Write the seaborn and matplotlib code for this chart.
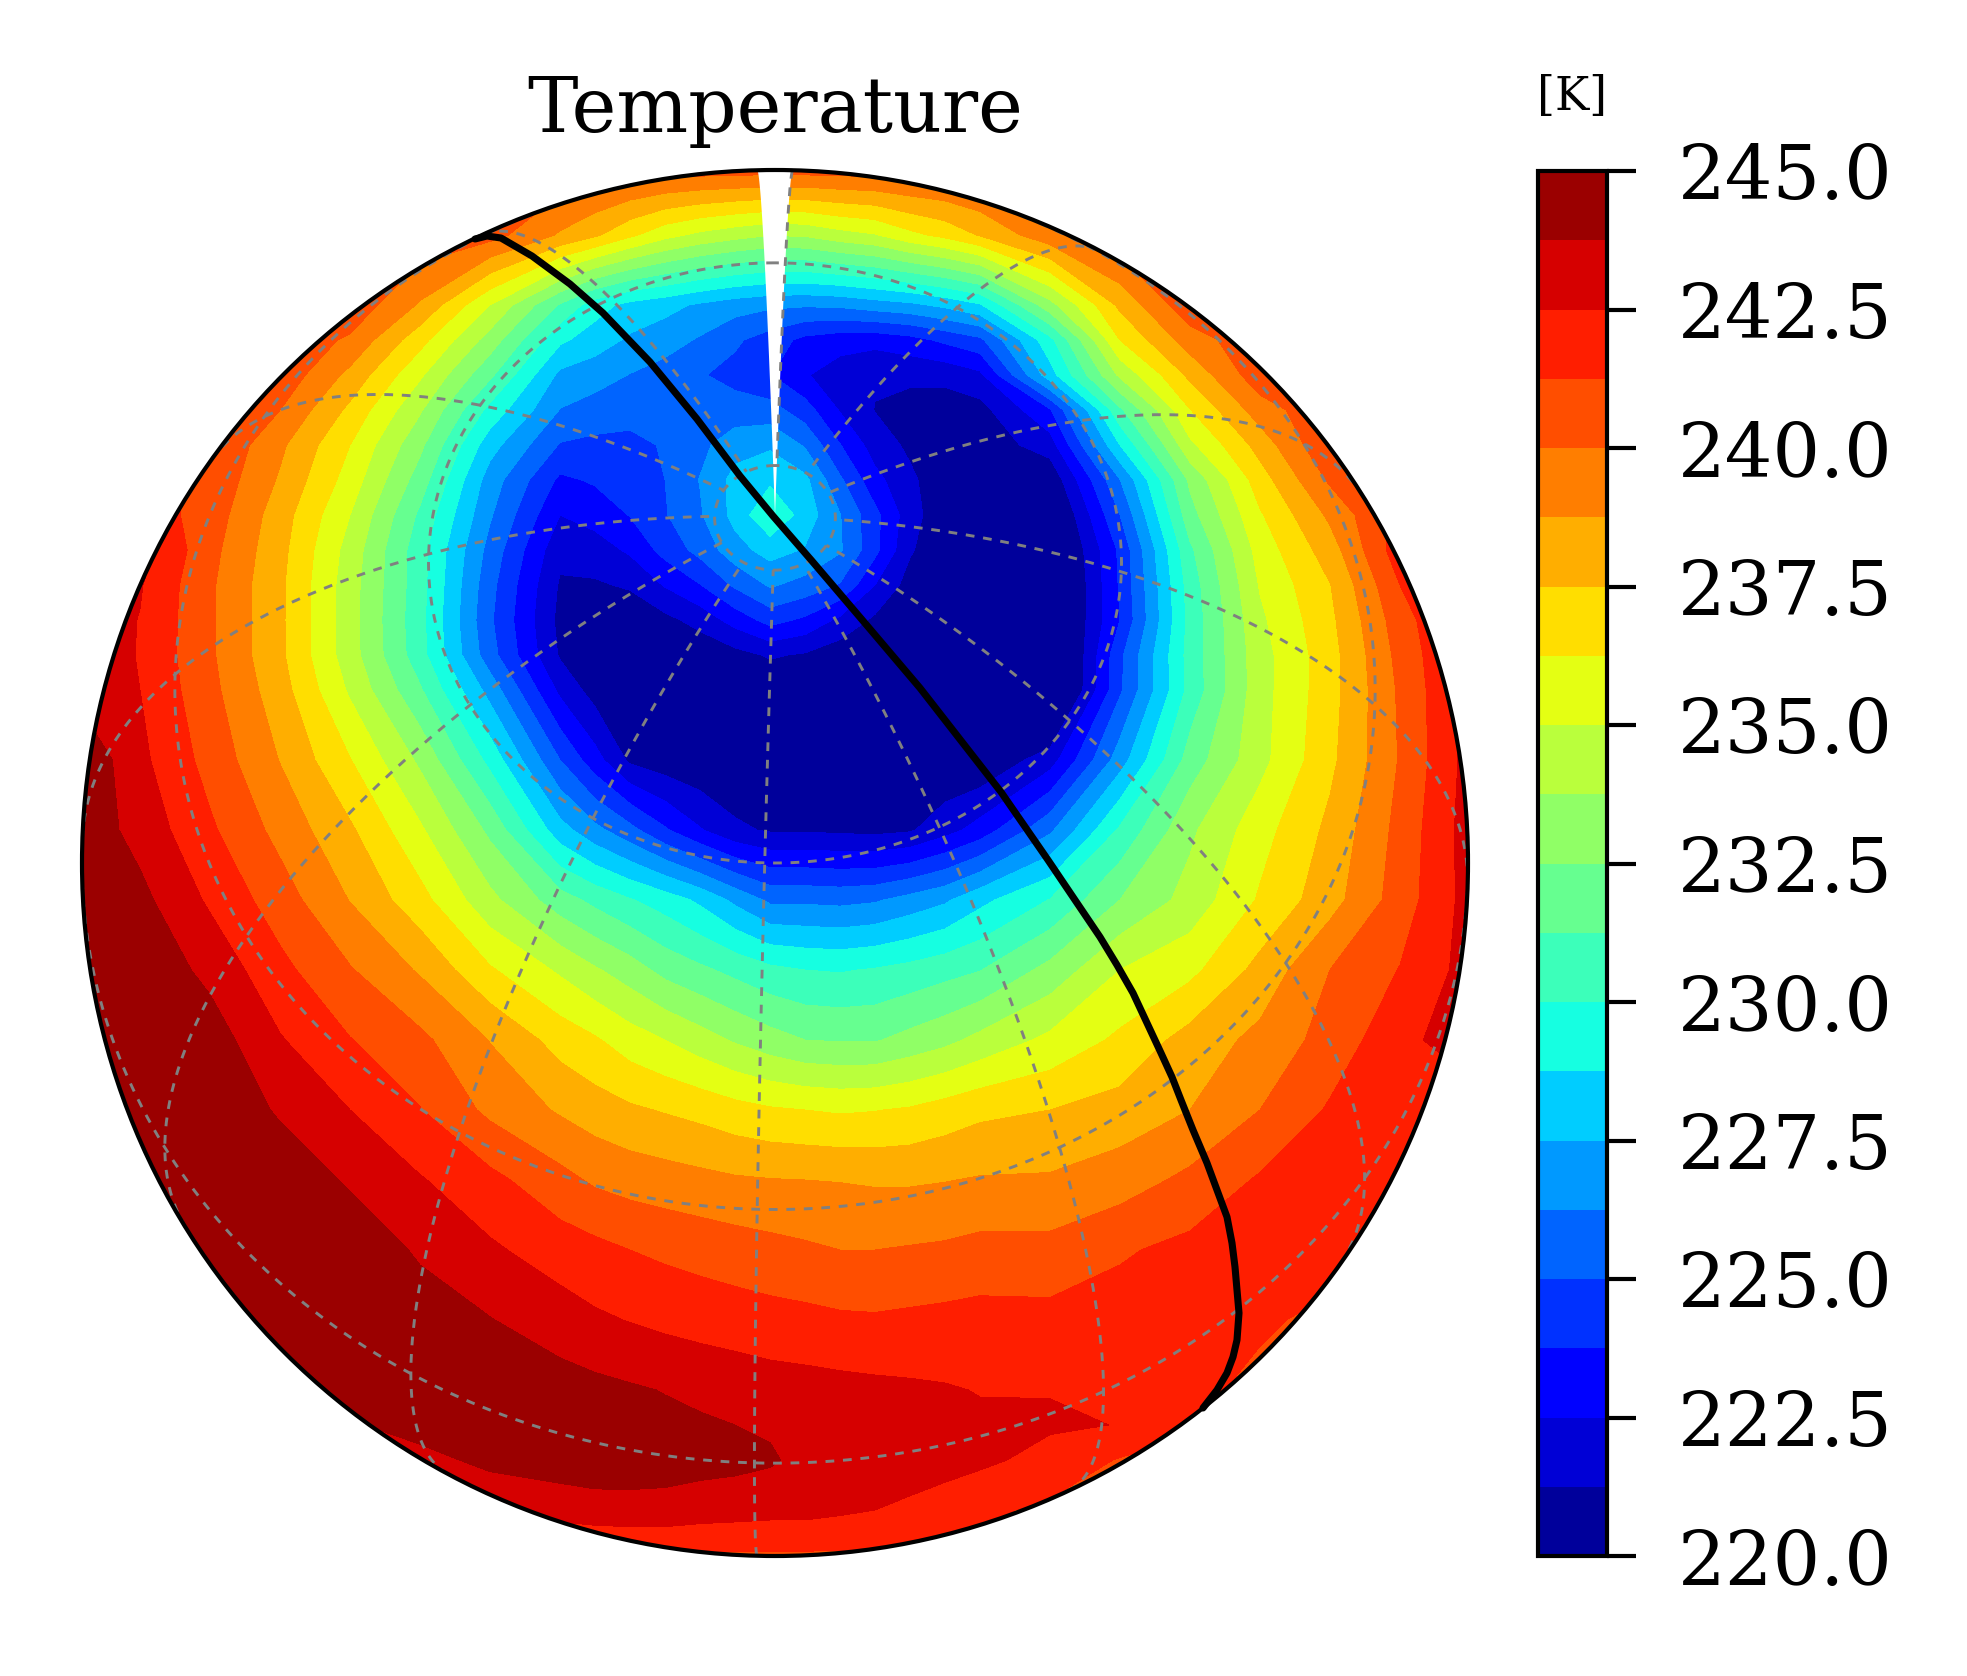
import numpy as np
import matplotlib
matplotlib.use("Agg")
import matplotlib.pyplot as plt
from matplotlib.cm import ScalarMappable
from matplotlib.colors import BoundaryNorm, ListedColormap
from matplotlib.patches import Circle
import seaborn as sns

sns.set_theme(style="white")
plt.rcParams["font.family"] = ["DejaVu Serif"]

# picture grid the temperatures were read on
grid_x = [70, 140, 210, 280, 350, 420, 490, 560, 595, 630, 665, 700, 735, 770, 805, 840, 875, 910, 945, 980,
          1050, 1120, 1190, 1260, 1330, 1400, 1470]
grid_y = [165, 235, 305, 340, 375, 410, 445, 480, 515, 550, 585, 620, 655, 690,
          760, 830, 900, 970, 1040, 1110, 1180, 1250, 1320, 1390, 1425, 1460, 1510, 1560]

# temperature [K], one list per row of the grid
t_165 = [241.0] * 27
t_235 = [240.9, 240.9, 240.9, 240.9, 240.9, 240.9, 240.5, 238.6, 237.7, 236.5, 235.4, 234.7, 234.2, 233.8, 233.9, 234.5, 234.9, 235.9, 236.6, 237.6, 239.6, 240.9, 240.9, 240.9, 240.9, 240.9, 240.9]
t_305 = [240.9, 240.9, 240.9, 240.9, 240.9, 238.6, 235.0, 231.1, 229.3, 228.35, 227.9, 227.3, 226.8, 226.5, 226.4, 226.5, 226.9, 227.2, 227.8, 228.6, 233.3, 237.8, 240.9, 240.9, 240.9, 240.9, 240.9]
t_340 = [240.9, 240.9, 240.9, 240.9, 239.8, 236.7, 233.2, 229.0, 228.1, 227.3, 226.8, 226.1, 225.2, 224.4, 223.4, 223.0, 222.9, 223.3, 224.0, 224.7, 229.6, 236.25, 239.4, 240.9, 240.9, 240.9, 240.9]
t_375 = [240.9, 240.9, 240.9, 240.9, 238.4, 235.2, 231.5, 227.2, 226.8, 226.2, 225.7, 225.1, 224.6, 223.8, 222.6, 221.9, 221.4, 221.5, 221.6, 222.2, 228.2, 234.0, 237.8, 240.8, 240.9, 240.9, 240.9]
t_410 = [241.1, 241.1, 241.1, 240.0, 237.2, 233.9, 229.6, 226.2, 225.7, 225.4, 225.4, 225.5, 225.5, 225.5, 224.3, 222.4, 221.2, 220.8, 220.6, 220.8, 223.6, 231.0, 236.2, 239.4, 241.0, 241.0, 241.0]
t_445 = [241.3, 241.3, 241.3, 239.0, 236.25, 232.8, 228.0, 224.9, 224.7, 224.7, 225.1, 225.9, 227.0, 227.3, 226.1, 223.8, 221.9, 221.0, 220.5, 220.4, 221.9, 228.75, 234.7, 238.0, 241.2, 241.3, 241.3]
t_480 = [241.6, 241.6, 241.0, 238.6, 235.7, 231.9, 226.9, 223.5, 223.9, 224.3, 225.0, 226.3, 227.9, 228.5, 227.8, 225.2, 222.9, 221.5, 220.4, 220.3, 220.2, 226.2, 232.75, 236.9, 240.2, 241.6, 241.6]
t_515 = [242.0, 242.0, 240.7, 238.1, 235.0, 231.0, 226.4, 222.5, 223.0, 223.8, 224.9, 226.1, 227.9, 229.9, 228.2, 226.3, 224.1, 221.8, 220.3, 220.2, 219.2, 225.0, 232.0, 236.1, 239.0, 241.8, 242.0]
t_550 = [243.0, 243.0, 240.4, 237.9, 234.5, 230.5, 225.8, 221.6, 221.9, 222.7, 224.2, 225.4, 227.0, 228.0, 227.4, 226.4, 224.1, 221.4, 220.2, 220.1, 218.7, 224.0, 231.0, 235.5, 238.15, 242.0, 243.0]
t_585 = [243.5, 242.6, 240.2, 237.75, 234.3, 230.5, 225.4, 221.1, 221.1, 221.4, 222.6, 223.7, 225.2, 226.4, 225.8, 224.9, 222.5, 220.7, 220.1, 220.1, 218.4, 223.9, 230.55, 235.1, 237.45, 241.25, 243.0]
t_620 = [243.6, 242.45, 240.2, 237.75, 234.25, 230.4, 225.2, 220.9, 220.4, 220.4, 220.9, 221.7, 223.0, 224.2, 223.5, 222.2, 221.0, 220.2, 220.1, 220.1, 218.6, 223.75, 230.4, 234.75, 237.2, 240.7, 243.0]
t_655 = [243.8, 242.4, 240.2, 237.75, 234.3, 230.5, 225.5, 221.1, 220.3, 220.1, 220.2, 220.3, 220.8, 221.4, 221.1, 220.5, 220.2, 220.1, 220.1, 220.1, 218.0, 224.7, 230.5, 234.5, 237.0, 240.4, 243.0]
t_690 = [243.7, 242.5, 240.35, 238.05, 234.8, 231.4, 227.0, 222.2, 220.7, 220.1, 220.1, 220.1, 220.1, 220.2, 220.2, 220.1, 220.1, 220.1, 220.1, 220.1, 218.1, 224.8, 230.4, 234.5, 237.0, 240.2, 243.0]
t_760 = [245.2, 242.8, 240.8, 238.7, 236.3, 233.5, 229.6, 225.0, 223.0, 221.0, 220.5, 220.2, 220.1, 220.1, 220.1, 220.1, 220.1, 220.1, 220.1, 220.1, 221.9, 226.9, 231.8, 234.6, 237.2, 240.1, 243.0]
t_830 = [244.8, 243.3, 241.45, 239.6, 237.7, 235.2, 232.2, 228.0, 226.6, 225.4, 223.9, 222.6, 221.5, 221.1, 221.1, 221.0, 220.9, 221.1, 222.0, 223.0, 226.0, 230.2, 233.5, 235.75, 237.8, 240.4, 243.1]
t_900 = [245.0, 244.1, 242.3, 240.6, 238.7, 236.7, 234.1, 231.8, 230.9, 230.1, 229.4, 228.5, 227.2, 226.0, 226.0, 225.9, 226.1, 226.7, 227.3, 228.4, 230.05, 232.5, 234.2, 236.4, 238.25, 240.6, 243.0]
t_970 = [245.0, 244.7, 243.4, 241.6, 240.1, 238.6, 236.4, 234.8, 233.9, 233.1, 232.1, 231.5, 230.9, 230.3, 230.0, 229.9, 230.1, 230.4, 230.8, 231.2, 232.9, 235.0, 235.9, 237.9, 240.0, 241.3, 243.0]
t_1040 = [245.0, 245.0, 244.4, 242.6, 241.3, 240.3, 238.7, 237.0, 236.4, 235.6, 235.0, 234.3, 233.6, 233.0, 232.5, 232.4, 232.4, 232.9, 233.4, 234.1, 235.3, 236.5, 238.0, 239.1, 240.5, 242.1, 243.3]
t_1110 = [245.0, 245.0, 244.7, 243.6, 242.5, 241.3, 239.7, 238.6, 238.1, 237.7, 237.4, 237.1, 236.7, 236.4, 236.25, 236.1, 236.2, 236.4, 236.8, 237.2, 237.5, 238.0, 238.75, 240.0, 241.4, 241.8, 241.8]
t_1180 = [245.0, 245.0, 245.0, 244.5, 243.6, 242.6, 241.6, 240.4, 239.8, 239.5, 239.3, 239.1, 238.9, 238.8, 238.75, 238.7, 238.6, 238.6, 238.7, 238.85, 238.9, 239.4, 240.3, 241.4, 241.6, 241.6, 241.6]
t_1250 = [244.8, 244.8, 244.8, 244.8, 244.5, 243.6, 242.7, 241.9, 241.6, 241.25, 241.0, 240.8, 240.6, 240.4, 240.2, 240.0, 240.0, 240.1, 240.2, 240.4, 240.4, 241.1, 241.6, 241.7, 241.7, 241.7, 241.7]
t_1320 = [244.6, 244.6, 244.6, 244.6, 244.6, 244.3, 243.8, 243.1, 242.7, 242.45, 242.2, 242.0, 241.85, 241.7, 241.6, 241.45, 241.4, 241.5, 241.6, 241.7, 241.65, 241.8, 241.8, 241.4, 241.0, 241.0, 241.0]
t_1390 = [243.5, 243.5, 243.5, 243.5, 244.4, 244.6, 244.5, 244.3, 244.1, 243.9, 243.7, 243.5, 243.3, 243.1, 243.0, 242.9, 242.8, 242.7, 242.6, 242.45, 242.45, 242.35, 241.5, 241.0, 240.9, 240.9, 240.9]
t_1425 = [243.2, 243.2, 243.2, 243.2, 243.6, 244.3, 244.4, 244.4, 244.3, 244.2, 244.05, 243.9, 243.75, 243.6, 243.3, 243.1, 243.0, 242.9, 242.8, 242.7, 242.65, 242.47, 241.4, 241.0, 241.0, 241.0, 241.0]
t_1460 = [243.0, 243.0, 243.0, 243.0, 243.0, 243.3, 244.1, 244.4, 244.5, 244.4, 244.3, 244.2, 244.1, 243.9, 243.4, 243.3, 243.1, 243.0, 242.9, 242.75, 242.1, 241.15, 241.0, 241.0, 241.0, 241.0, 241.0]
t_1510 = [242.6, 242.6, 242.6, 242.6, 242.6, 242.6, 242.6, 243.0, 243.2, 243.3, 243.3, 243.1, 243.0, 242.9, 242.9, 242.7, 242.5, 242.3, 242.0, 241.5, 241.0, 241.0, 241.0, 241.0, 241.0, 241.0, 241.0]
t_1560 = [240.9] * 27

# black track
track_x = [475, 487, 501, 532, 570, 603, 650, 697, 740, 773, 812, 864, 920, 1001, 1048, 1075, 1100, 1117, 1133, 1147, 1161, 1172, 1181, 1193, 1207, 1217, 1227, 1232, 1235, 1237, 1239, 1237, 1233, 1227, 1217, 1203]
track_y = [239, 236, 238, 256, 284, 313, 362, 419, 476, 516, 561, 622, 688, 792, 860, 900, 937, 965, 993, 1023, 1053, 1077, 1100, 1130, 1163, 1190, 1217, 1243, 1267, 1290, 1313, 1340, 1357, 1373, 1390, 1408]

parallels = [-30, 0, 30, 60, 85]
meridians = [-1.7 + 30 * k for k in range(12)]
seam_lons = [178.3, 181.7]
levels = np.arange(220, 245.01, 1.25)
bar_ticks = np.arange(220, 245.01, 2.5)

disk_x, disk_y, disk_r = 775, 863, 693
lat_0 = np.radians(60)


def ortho(lat, lon):
    # orthographic projection into the picture grid, lon measured from the central meridian
    phi, lam = np.radians(lat), np.radians(lon)
    x = disk_r * np.cos(phi) * np.sin(lam)
    y = disk_r * (np.cos(lat_0) * np.sin(phi) - np.sin(lat_0) * np.cos(phi) * np.cos(lam))
    front = np.sin(lat_0) * np.sin(phi) + np.cos(lat_0) * np.cos(phi) * np.cos(lam)
    return disk_x + x, disk_y - y, front >= 0


temps = np.array([t_165, t_235, t_305, t_340, t_375, t_410, t_445, t_480, t_515, t_550, t_585, t_620, t_655, t_690,
                  t_760, t_830, t_900, t_970, t_1040, t_1110, t_1180, t_1250, t_1320, t_1390, t_1425, t_1460, t_1510,
                  t_1560])

W, H = 1967, 1676
fig = plt.figure(figsize=(W / 300, H / 300), dpi=300)
ax = fig.add_axes([(disk_x - disk_r) / W, 1 - (disk_y + disk_r) / H, 2 * disk_r / W, 2 * disk_r / H])
ax.set_xlim(disk_x - disk_r, disk_x + disk_r)
ax.set_ylim(disk_y + disk_r, disk_y - disk_r)
ax.axis("off")

disk = Circle((disk_x, disk_y), disk_r, transform=ax.transData, fc="none", ec="black", lw=1.0, zorder=6, clip_on=False)
ax.add_patch(disk)

# jet, one colour per 1.25 K band; the outer two bands stay open so the table can run past the scale
jet = plt.get_cmap("jet")
band_colors = [jet((k + 0.5) / 20) for k in range(20)]
fill_levels = np.r_[200, levels[1:-1], 260]
cs = ax.contourf(grid_x, grid_y, temps, levels=fill_levels, colors=band_colors, zorder=1)
cs.set_clip_path(disk)

# gap in longitude behind the pole
seam_lat = np.linspace(90, 29.5, 40)
sx0, sy0, _ = ortho(seam_lat, seam_lons[0])
sx1, sy1, _ = ortho(seam_lat, seam_lons[1])
gap = ax.fill(np.r_[sx0, sx1[::-1]], np.r_[sy0, sy1[::-1]], color="white", lw=0, zorder=2)[0]
gap.set_clip_path(disk)

# graticule
for lat in parallels:
    lons = np.linspace(-180, 180, 721)
    gx, gy, vis = ortho(np.full_like(lons, lat), lons)
    gx[~vis] = np.nan
    ax.plot(gx, gy, color="gray", lw=0.7, ls=(0, (3, 3)), zorder=3, clip_on=False)
for lon in meridians:
    lats = np.linspace(-90, 85, 351)
    gx, gy, vis = ortho(lats, np.full_like(lats, lon))
    gx[~vis] = np.nan
    ax.plot(gx, gy, color="gray", lw=0.7, ls=(0, (3, 3)), zorder=3, clip_on=False)

sns.lineplot(x=track_x, y=track_y, sort=False, estimator=None, color="black", lw=1.7, ax=ax, zorder=4)
ax.set_xlim(disk_x - disk_r, disk_x + disk_r)
ax.set_ylim(disk_y + disk_r, disk_y - disk_r)
ax.axis("off")

fig.text(disk_x / W, 1 - 132 / H, "Temperature", fontsize=18.2, ha="center", va="baseline", color="black")

cax = fig.add_axes([1538 / W, 1 - 1556 / H, 69 / W, 1385 / H])
sm = ScalarMappable(norm=BoundaryNorm(levels, 20), cmap=ListedColormap(band_colors))
cb = fig.colorbar(sm, cax=cax, ticks=bar_ticks, format="%.1f", spacing="proportional")
cb.outline.set_edgecolor("black")
cb.outline.set_linewidth(1.0)
cax.tick_params(axis="y", right=True, length=7, width=1.0, labelsize=18, pad=10, colors="black")
cax.minorticks_off()
fig.text(1572 / W, 1 - 110 / H, "[K]", fontsize=11, ha="center", va="baseline", color="black")

fig.savefig("out.png", dpi=300)
